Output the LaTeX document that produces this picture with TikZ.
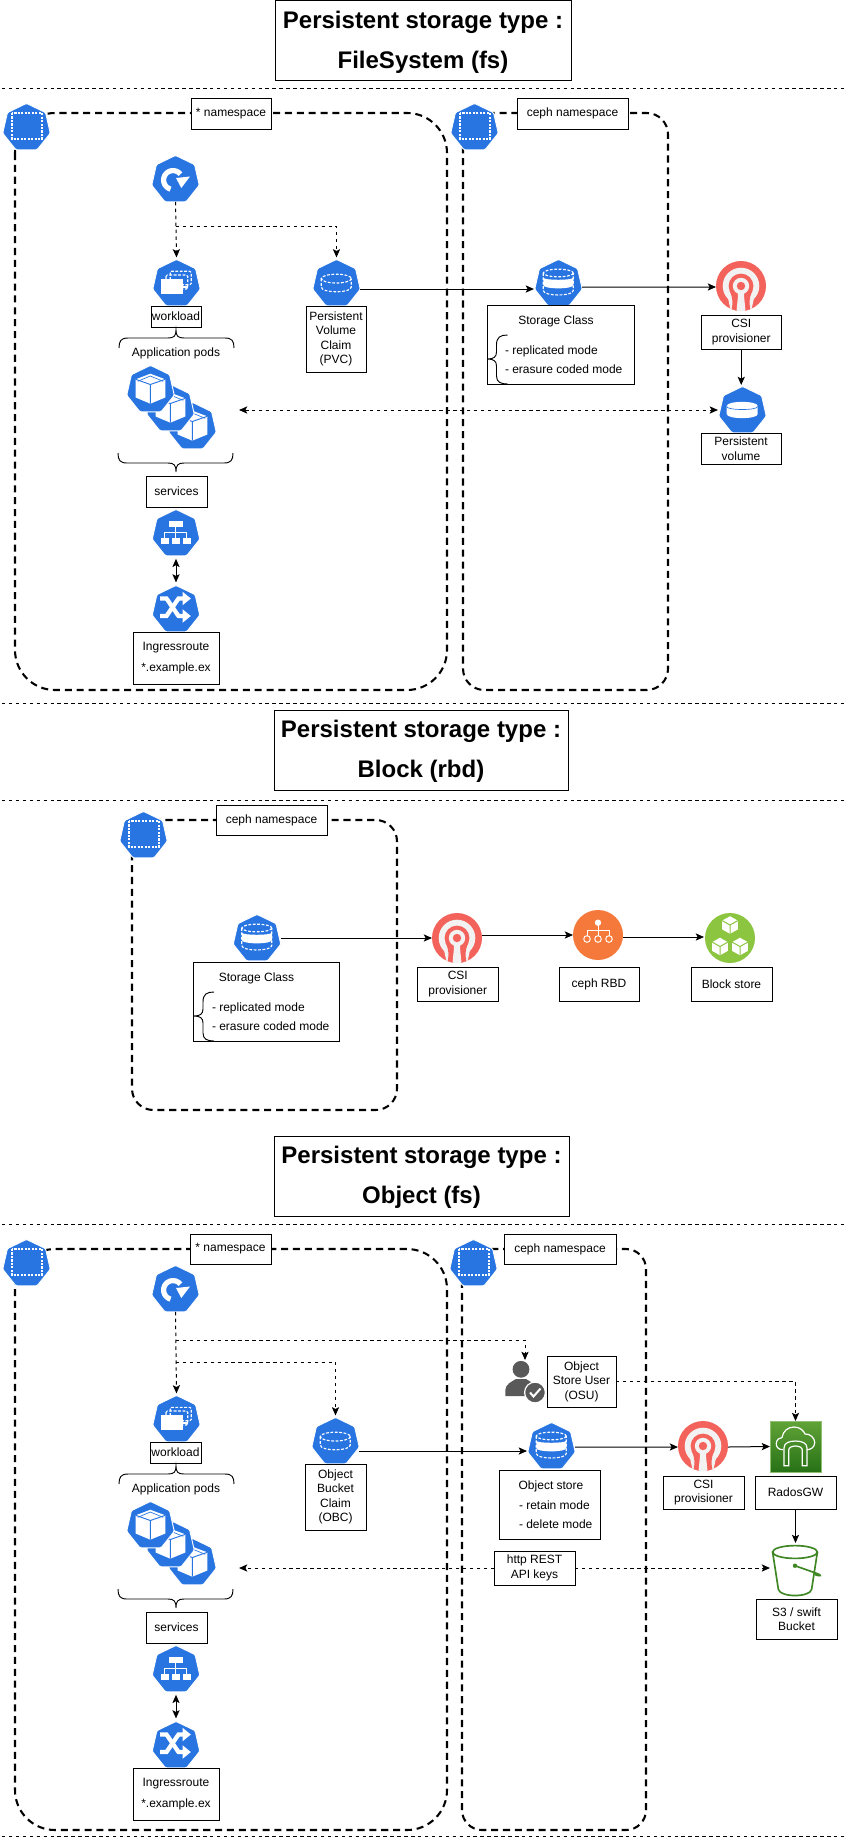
\documentclass[tikz,border=0pt]{standalone}
\usepackage{fontspec}
\setmainfont{Liberation Sans}
\usetikzlibrary{arrows.meta,shapes.geometric,calc}
\definecolor{kblue}{HTML}{2875E2}
\definecolor{cephred}{HTML}{F3635B}
\definecolor{cephbg}{HTML}{F2F2F2}
\definecolor{rbdorange}{HTML}{F5793A}
\definecolor{blockgreen}{HTML}{8CC540}
\definecolor{awsgreen}{HTML}{3F8624}
\definecolor{usergray}{HTML}{595959}
\definecolor{awstop}{HTML}{60A337}
\definecolor{awsbot}{HTML}{277116}
\tikzset{
  x=0.75pt,y=-0.75pt,
  lbl/.style={draw=black,fill=white,line width=0.7pt,inner sep=0pt,outer sep=0pt,align=center,font=\fontsize{9}{10.875}\selectfont},
  ttl/.style={lbl,font=\fontsize{18}{30}\selectfont\bfseries},
  txtn/.style={inner sep=0pt,outer sep=0pt,font=\fontsize{9}{10.875}\selectfont},
  sep/.style={black,line width=0.7pt,dash pattern=on 2.6pt off 2.6pt},
  cont/.style={black,line width=1.55pt,dash pattern=on 5.3pt off 3.6pt},
  conn/.style={black,line width=0.75pt},
  arr/.style={conn,-{Stealth[length=6.2pt,width=5.4pt,inset=1.4pt]}},
  darr/.style={conn,{Stealth[length=6.2pt,width=5.4pt,inset=1.4pt]}-{Stealth[length=6.2pt,width=5.4pt,inset=1.4pt]}},
  dsh/.style={dash pattern=on 2.6pt off 2.6pt},
  brc/.style={black,line width=0.7pt},
  kpoly/.style={regular polygon,regular polygon sides=7,minimum size=36.6pt,inner sep=0pt,outer sep=0pt,fill=kblue,draw=white,line width=0.7pt,rounded corners=0.9pt},
  wdash/.style={white,line width=0.85pt,dash pattern=on 2.1pt off 1.2pt},
  wline/.style={white,line width=0.85pt},
  disc/.style={circle,minimum size=37.5pt,inner sep=0pt,outer sep=0pt},
  hold/.style={rectangle,inner sep=0pt,outer sep=0pt},
}
\newcommand\ttlfix{\rule{0pt}{15.5pt}}
\newcommand\boxn[6][lbl]{\node[#1,minimum width={(#4-#2)*0.75pt},minimum height={(#5-#3)*0.75pt}] (#6) at ({(#2+#4)/2},{(#3+#5)/2})}
\newcommand\kube[4]{\node[kpoly] (#1) at (#2+23.5,#3+23.8) {};\begin{scope}[shift={(#2,#3)}]#4\end{scope}}
\newcommand\gNs{\draw[wdash,line width=0.9pt,dash pattern=on 1.6pt off 1pt] (9,9) rectangle (39,35);}
\newcommand\gRs{\draw[white,line width=3.9pt] plot[domain=105:322,samples=24,smooth] ({21+9.4*cos(\x)},{24+9.4*sin(\x)});\fill[white] (24,22) -- (38,20.5) -- (29.3,32) -- cycle;}
\newcommand\gWl{\draw[wdash,rounded corners=1pt] (17.3,11.3) rectangle (38.3,24.7);\draw[wdash,rounded corners=1pt] (13,15) rectangle (34.7,29);\fill[white] (8.3,19) rectangle (29.7,34);\draw[wline] (29.7,27) -- (35,27);}
\newcommand\gPvc{\draw[wdash] (23.3,18.6) ellipse[x radius=15,y radius=4.4];\draw[wdash] (8.3,18.6) -- (8.3,27) .. controls (8.3,33.4) and (38.3,33.4) .. (38.3,27) -- (38.3,18.6);}
\newcommand\gSc{\draw[wdash] (23.3,13) ellipse[x radius=15,y radius=3.8];\draw[wdash] (8.3,13) -- (8.3,30.5) .. controls (8.3,36.5) and (38.3,36.5) .. (38.3,30.5) -- (38.3,13);\fill[white] (8.3,17.6) .. controls (8.3,20.5) and (38.3,20.5) .. (38.3,17.6) -- (38.3,25) .. controls (38.3,29.5) and (8.3,29.5) .. (8.3,25) -- cycle;}
\newcommand\gPv{\fill[white] (7.7,19) .. controls (7.7,13.5) and (38.7,13.5) .. (38.7,19) -- (38.7,27) .. controls (38.7,32.5) and (7.7,32.5) .. (7.7,27) -- cycle;\draw[kblue,line width=0.5pt] (7.7,19.5) .. controls (7.7,23.5) and (38.7,23.5) .. (38.7,19.5);}
\newcommand\gPod{\fill[white] (23.3,7.7) -- (38.3,13.3) -- (38.3,31.5) -- (23.3,37.7) -- (8.7,31.5) -- (8.7,13.3) -- cycle;\draw[kblue,line width=0.7pt] (8.7,13.3) -- (23.3,18.5) -- (38.3,13.3) (23.3,18.5) -- (23.3,37.7);\draw[kblue,line width=0.5pt] (10.8,15.3) -- (23.3,10) -- (36.2,15.3);}
\newcommand\gSvc{\fill[white] (16.7,11.3) rectangle (30,16.7);\fill[white] (8,27.7) rectangle (16,33.7);\fill[white] (19.3,27.7) rectangle (27.3,33.7);\fill[white] (30.3,27.7) rectangle (38.3,33.7);\draw[wline,line width=0.7pt] (23.3,16.7) -- (23.3,27.7) (12,27.7) -- (12,22.3) -- (34.3,22.3) -- (34.3,27.7);}
\newcommand\gIng{\draw[white,line width=3.2pt] (7.7,12.5) -- (14,12.5) -- (26,30) -- (31,30);\fill[white] (30,23.2) -- (38.3,30) -- (30,36.8) -- cycle;\draw[white,line width=3.2pt] (7.7,30) -- (14,30) -- (26,12.5) -- (31,12.5);\fill[white] (30,5.7) -- (38.3,12.5) -- (30,19.3) -- cycle;}
\newcommand\ceph[3]{\node[disc,fill=cephred] (#1) at (#2,#3) {};\begin{scope}[shift={(#2,#3)}]\clip (0,0) circle[radius=25];
  \fill[cephbg] (0,0) circle[radius=18.3];
  \fill[cephbg] (-13,12) -- (-10,26) -- (10,26) -- (13,12) -- cycle;
  \fill[cephred] (0,0) circle[radius=12.4];
  \fill[cephred] (-11.4,5) .. controls (-7.5,13) and (-8,18) .. (-10,26) -- (-4.4,26) .. controls (-3,18) and (-3,13) .. (-3,8) -- cycle;
  \fill[cephred] (11.4,5) .. controls (7.5,13) and (8,18) .. (10,26) -- (4.4,26) .. controls (3,18) and (3,13) .. (3,8) -- cycle;
  \fill[cephbg] (0,0) circle[radius=8.2];
  \fill[cephbg] (-3.2,5) -- (3.2,5) -- (3.2,12) -- (4.6,26) -- (-4.6,26) -- (-3.2,12) -- cycle;
  \fill[cephred] (0,0) circle[radius=4.2];\end{scope}}
\newcommand\minicube[2]{\begin{scope}[shift={(#1,#2)}]\fill[white] (0,-8.8) -- (7.8,-4.4) -- (7.8,4.4) -- (0,8.8) -- (-7.8,4.4) -- (-7.8,-4.4) -- cycle;\draw[blockgreen,line width=0.75pt] (-7.8,-4.4) -- (0,0) -- (7.8,-4.4) (0,0) -- (0,8.8);\end{scope}}
\newcommand\leftcurl[2]{\begin{scope}[shift={(#1,#2)}]\draw[brc] (20,0) .. controls (13,0) and (9,2) .. (9,10) -- (9,17) .. controls (9,22) and (6,24) .. (0,24) .. controls (6,24) and (9,26) .. (9,31) -- (9,41) .. controls (9,47) and (13,49) .. (20,49);\end{scope}}
\newcommand\bracesUp[1]{\begin{scope}[shift={(0,#1)}]\draw[brc] (119,348) .. controls (119,341) and (121,338) .. (128,338) -- (168,338) .. controls (174,338) and (176,336) .. (176,330) .. controls (176,336) and (178,338) .. (184,338) -- (225,338) .. controls (232,338) and (234,341) .. (234,348);\end{scope}}
\newcommand\bracesDn[1]{\begin{scope}[shift={(0,#1)}]\draw[brc] (118,453) .. controls (118,460) and (120,463) .. (127,463) -- (168,463) .. controls (174,463) and (176,465) .. (176,472) .. controls (176,465) and (178,463) .. (184,463) -- (224,463) .. controls (231,463) and (233,460) .. (233,453);\end{scope}}
\begin{document}
\begin{tikzpicture}
\useasboundingbox (0,0) rectangle (844,1839);
\fill[white] (0,0) rectangle (844,1839);
% ---------- separators and containers
\draw[sep] (2,88.5) -- (844,88.5);
\draw[sep] (2,703) -- (844,703);
\draw[sep] (2,800) -- (844,800);
\draw[sep] (2,1224.5) -- (844,1224.5);
\draw[sep] (2,1836) -- (844,1836);
\draw[cont,rounded corners=30pt] (15,113) rectangle (447,690);
\draw[cont,rounded corners=16pt] (463,113) rectangle (668,690);
\draw[cont,rounded corners=16pt] (132,820) rectangle (397,1110);
\draw[cont,rounded corners=30pt] (15,1249) rectangle (447,1830);
\draw[cont,rounded corners=15pt] (462,1249) rectangle (646,1830);
% ---------- titles
\boxn[ttl]{275}{0.5}{571}{80}{title1} {\ttlfix Persistent storage type :\\FileSystem (fs)};
\boxn[ttl]{274}{710}{568}{790}{title2} {\ttlfix Persistent storage type :\\Block (rbd)};
\boxn[ttl]{274}{1136}{569}{1216}{title3} {\ttlfix Persistent storage type :\\Object (fs)};
% ---------- section 1 nodes
\boxn{191}{98}{271}{129}{nslbl1} {* namespace};
\boxn{517}{98}{628}{129}{cephlbl1} {ceph namespace};
\kube{ns1}{3}{104}{\gNs}
\kube{ns1c}{451}{104}{\gNs}
\kube{rs1}{152}{156}{\gRs}
\kube{wl1}{153}{260}{\gWl}
\kube{pvc1}{313}{260}{\gPvc}
\kube{sc1}{535}{260}{\gSc}
\ceph{csi1}{741}{286}
\kube{pv1}{719}{387}{\gPv}
\boxn{151}{306}{201}{327}{wllbl1} {workload};
\boxn{306}{306}{366}{372}{pvclbl1} {Persistent\\Volume\\Claim\\(PVC)};
\boxn{487.5}{305}{634}{384}{scbox1} {};
\node[txtn,anchor=base] (sct1) at (556,324) {Storage Class};
\node[txtn,anchor=base west] (sca1) at (505,354) {- replicated mode};
\node[txtn,anchor=base west] (scb1) at (505,373) {- erasure coded mode};
\leftcurl{487.5}{335}
\boxn{701.5}{315}{781}{349}{csilbl1} {CSI\\provisioner};
\boxn{701}{433}{781}{464}{pvlbl1} {Persistent\\volume};
\bracesUp{0}
\node[txtn] (apps1) at (176,353) {Application pods};
\kube{pod1c}{169}{403}{\gPod}
\kube{pod1b}{147}{385}{\gPod}
\kube{pod1a}{127}{366}{\gPod}
\bracesDn{0}
\boxn{146}{476}{207}{507}{svclbl1} {services};
\kube{svc1}{152.5}{510}{\gSvc}
\kube{ing1}{152.5}{586}{\gIng}
\boxn{133}{632}{219}{684}{inglbl1} {Ingressroute\\[4.6pt]*.example.ex};
% ---------- section 1 connectors
\coordinate (fork1) at (176,226);
\coordinate (pods1) at (239,410);
\draw[arr,dsh] (rs1.south) -- ([yshift=1.5pt]wl1.north);
\draw[arr,dsh] (fork1) -| ([yshift=1.5pt]pvc1.north);
\draw[arr] ([shift={(1,5.2)}]pvc1.east) -- ([shift={(-2,5.2)}]sc1.west);
\draw[arr] ([shift={(1,3.2)}]sc1.east) -- ([shift={(0,1)}]csi1.west);
\draw[arr] (csilbl1.south) -- ++(0,36);
\draw[darr,dsh] (pods1) -- ([shift={(-2,-0.8)}]pv1.west);
\draw[darr] ([shift={(0,3)}]svc1.south) -- ([shift={(0,-3)}]ing1.north);
% ---------- section 2
\boxn{216}{805}{327}{835}{cephlbl2} {ceph namespace};
\kube{ns2}{120}{812}{\gNs}
\kube{sc2}{233.5}{915}{\gSc}
\boxn{193}{962}{339}{1041}{scbox2} {};
\node[txtn,anchor=base] (sct2) at (256.5,981) {Storage Class};
\node[txtn,anchor=base west] (sca2) at (212,1011) {- replicated mode};
\node[txtn,anchor=base west] (scb2) at (212,1030) {- erasure coded mode};
\leftcurl{194}{992}
\ceph{csi2}{457}{938}
\node[disc,fill=rbdorange] (rbd) at (598,935) {};
\begin{scope}[shift={(598,935)}]
  \fill[white] (0,-12.3) circle[radius=3.2];
  \draw[wline,line width=0.7pt] (0,-12) -- (0,-4.3) (-11,0.7) -- (-11,-4.3) -- (11,-4.3) -- (11,0.7) (0,-4.3) -- (0,0.7);
  \draw[wline,line width=0.7pt] (-11,4) circle[radius=3.3] (0,4) circle[radius=3.3] (11,4) circle[radius=3.3];
\end{scope}
\node[disc,fill=blockgreen] (blockn) at (730,938) {};
\minicube{730}{925}
\minicube{720}{946.5}
\minicube{740}{946.5}
\boxn{417.5}{967}{498}{1001}{csilbl2} {CSI\\provisioner};
\boxn{559}{967}{639}{1001}{rbdlbl} {ceph RBD};
\boxn{691}{967}{772}{1001}{blocklbl} {Block store};
\draw[arr] ([shift={(1,-0.8)}]sc2.east) -- (csi2.west);
\draw[arr] ([shift={(0,-3)}]csi2.east) -- (rbd.west);
\draw[arr] ([shift={(0,2)}]rbd.east) -- ([shift={(-1,-1)}]blockn.west);
% ---------- section 3 nodes
\boxn{190}{1234}{271}{1264}{nslbl3} {* namespace};
\boxn{504}{1234}{616}{1264}{cephlbl3} {ceph namespace};
\kube{ns3}{3}{1240}{\gNs}
\kube{ns3c}{450}{1240}{\gNs}
\kube{rs3}{152}{1266}{\gRs}
\kube{wl3}{153}{1396}{\gWl}
\kube{obc}{312}{1418}{\gPvc}
\kube{store}{528}{1423}{\gSc}
\ceph{csi3}{703}{1446}
\node[hold,minimum width=38.25pt,minimum height=38.25pt,top color=awstop,bottom color=awsbot,draw=awstop!70!white,line width=0.5pt] (rados) at (795.5,1446.5) {};
\begin{scope}[shift={(770,1421)}]
  \draw[wline,line width=0.9pt,line join=round] (13,28.7) .. controls (8,28.7) and (6,25.5) .. (6.3,22.5) .. controls (6.5,18.5) and (9.5,16.5) .. (12,16.5) .. controls (13,10) and (18,6) .. (24,6) .. controls (30,6) and (33.5,9.5) .. (35,13) .. controls (40,12.5) and (44.7,17) .. (44.7,21.5) .. controls (44.7,26) and (41,28.7) .. (37,28.7);
  \draw[wline,line width=0.9pt] (14,44.7) -- (14,27) .. controls (14,22) and (19,20) .. (25.5,20) .. controls (32,20) and (37,22) .. (37,27) -- (37,44.7) -- (32.3,44.7) -- (32.3,29) .. controls (32.3,26.5) and (29,25) .. (25.5,25) .. controls (22,25) and (18.7,26.5) .. (18.7,29) -- (18.7,44.7) -- cycle;
\end{scope}
\node[hold,minimum width=36.75pt,minimum height=38.25pt] (bucket) at (796.5,1570.5) {};
\begin{scope}[shift={(795,1552)}]
  \draw[awsgreen,line width=1.25pt] (0,0) ellipse[x radius=22.4,y radius=6.4];
  \draw[awsgreen,line width=1.25pt] (-22.4,0) -- (-16.6,37.5) .. controls (-14.5,45.5) and (14.5,45.5) .. (16.6,37.5) -- (22.4,0);
  \fill[awsgreen] (0,13.7) circle[radius=2.2];
  \draw[awsgreen,line width=1.25pt] (0,13.7) -- (22,21.5) .. controls (27,23) and (26,25) .. (20,22.6);
\end{scope}
\node[hold,minimum width=30pt,minimum height=31.5pt] (usr) at (525,1382) {};
\begin{scope}[shift={(505,1361)}]
  \fill[usergray] (16,8.3) circle[radius=8.4];
  \fill[usergray] (0.3,35) -- (0.3,29) .. controls (0.5,23) and (7,20.5) .. (11,18) -- (21,18) .. controls (25,20.5) and (30,23) .. (31,26) -- (26,35) -- cycle;
  \draw[white,line width=0.9pt,fill=usergray] (30,31.5) circle[radius=10.4];
  \draw[white,line width=1.5pt] (25,31.5) -- (28.5,35.5) -- (35.5,27.5);
\end{scope}
\boxn{150}{1442}{201}{1463}{wllbl3} {workload};
\boxn{305}{1464}{366}{1530}{obclbl} {Object\\Bucket\\Claim\\(OBC)};
\boxn{547}{1356}{616}{1407}{osulbl} {Object\\Store User\\(OSU)};
\boxn{499}{1470}{600}{1539}{storebox} {};
\node[txtn,anchor=base] (storet) at (551,1489.5) {Object store};
\node[txtn,anchor=base west] (storea) at (519,1509) {- retain mode};
\node[txtn,anchor=base west] (storeb) at (519,1528) {- delete mode};
\boxn{663}{1476}{744}{1509}{csilbl3} {CSI\\provisioner};
\boxn{755}{1476}{836}{1509}{radoslbl} {RadosGW};
\boxn{756}{1599}{837}{1639}{s3lbl} {S3 / swift\\Bucket};
\boxn{494}{1551}{575}{1585}{http} {http REST\\API keys};
\bracesUp{1136}
\node[txtn] (apps3) at (176,1489) {Application pods};
\kube{pod3c}{169}{1539}{\gPod}
\kube{pod3b}{147}{1521}{\gPod}
\kube{pod3a}{127}{1502}{\gPod}
\bracesDn{1136}
\boxn{146}{1612}{207}{1643}{svclbl3} {services};
\kube{svc3}{152.5}{1646}{\gSvc}
\kube{ing3}{152.5}{1722}{\gIng}
\boxn{133}{1768}{219}{1820}{inglbl3} {Ingressroute\\[4.6pt]*.example.ex};
% ---------- section 3 connectors
\coordinate (fork3a) at (176,1340);
\coordinate (fork3b) at (176,1362);
\coordinate (pods3) at (239,1568);
\draw[arr,dsh] (rs3.south) -- ([yshift=1.5pt]wl3.north);
\draw[arr,dsh] (fork3a) -| ([yshift=0.75pt]usr.north);
\draw[arr,dsh] (fork3b) -| ([yshift=1.5pt]obc.north);
\draw[arr] ([shift={(1,9.2)}]obc.east) -- ([shift={(-2,4.2)}]store.west);
\draw[arr] ([shift={(1,0.2)}]store.east) -- ([shift={(0,1)}]csi3.west);
\draw[arr] ([shift={(0,1)}]csi3.east) -- (rados.west);
\draw[arr,dsh] (osulbl.east) -| (rados.north);
\draw[arr] (radoslbl.south) -- ++(0,34);
\draw[arr,dsh] (http.west) -- (pods3);
\draw[arr,dsh] (http.east) -- ([shift={(-2,-2.5)}]bucket.west);
\draw[darr] ([shift={(0,3)}]svc3.south) -- ([shift={(0,-3)}]ing3.north);
\end{tikzpicture}
\end{document}
